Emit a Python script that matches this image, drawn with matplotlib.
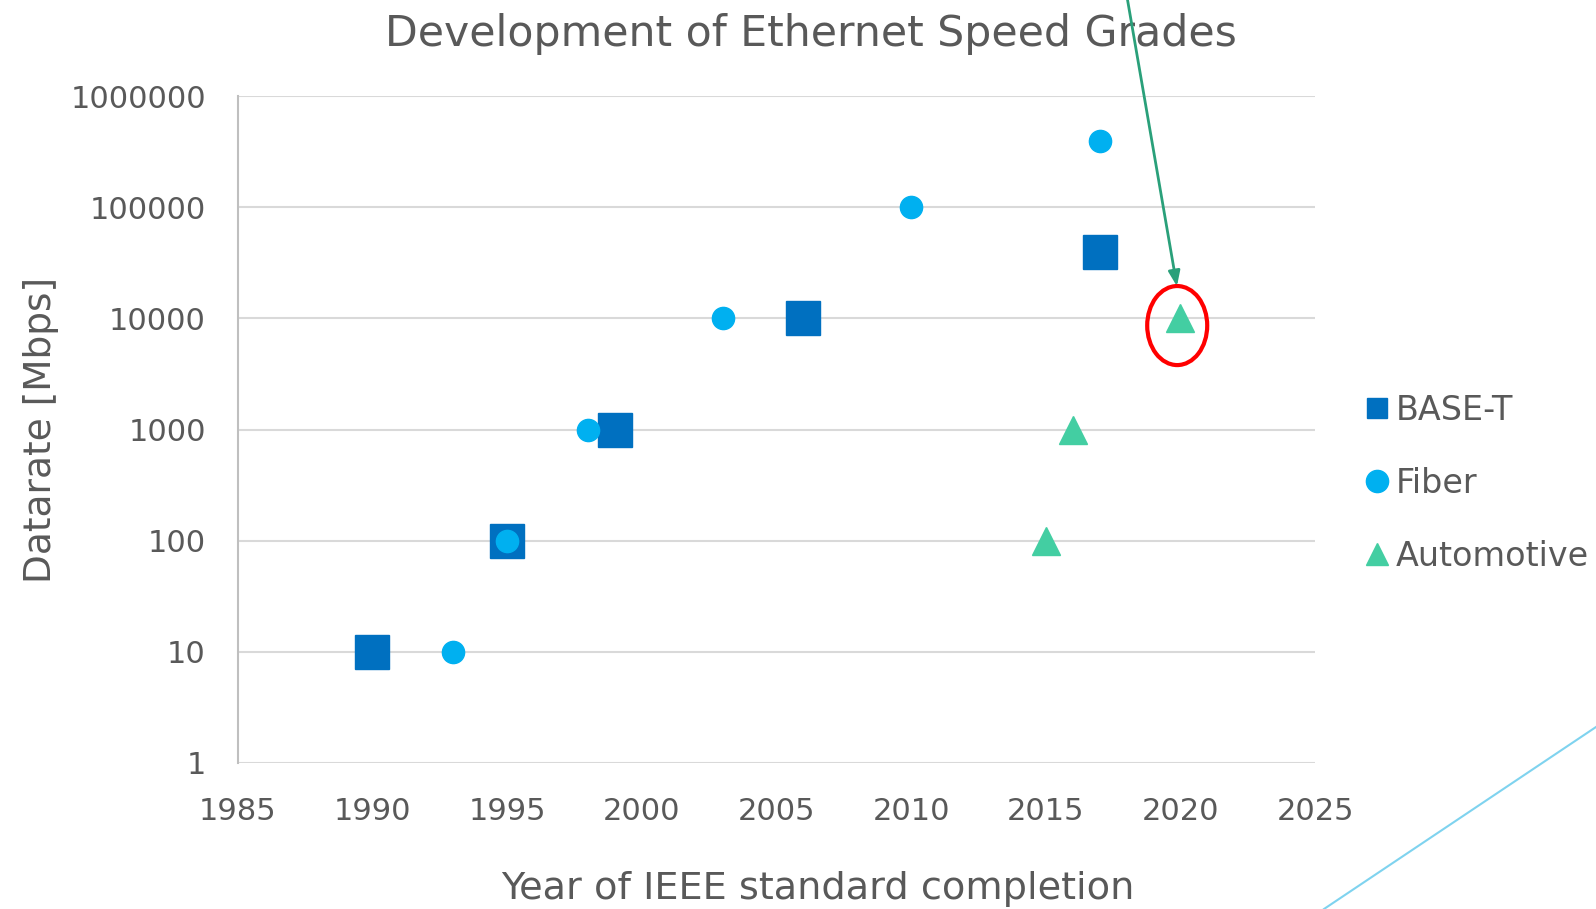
import matplotlib
matplotlib.use("Agg")
import matplotlib.pyplot as plt
from matplotlib.patches import Ellipse
from matplotlib.lines import Line2D

# data
base_t_years = [1990, 1995, 1999, 2006, 2017]
base_t_rates = [10, 100, 1000, 10000, 40000]
fiber_years = [1993, 1995, 1998, 2003, 2010, 2017]
fiber_rates = [10, 100, 1000, 10000, 100000, 400000]
auto_years = [2015, 2016, 2020]
auto_rates = [100, 1000, 10000]
x_ticks = [1985, 1990, 1995, 2000, 2005, 2010, 2015, 2020, 2025]
y_ticks = [1, 10, 100, 1000, 10000, 100000, 1000000]

TXT = '#595959'
plt.rcParams['font.family'] = ['DejaVu Sans']

fig = plt.figure(figsize=(15.96, 9.09), dpi=100)
ax = fig.add_axes([0.149, 0.161, 0.675, 0.733])

ax.plot(base_t_years, base_t_rates, 's', color='#0070C0', markersize=25, linestyle='none', label='BASE-T', zorder=3)
ax.plot(fiber_years, fiber_rates, 'o', color='#00B0F0', markersize=16, linestyle='none', label='Fiber', zorder=4)
ax.plot(auto_years, auto_rates, '^', color='#43CEA2', markersize=20, linestyle='none', label='Automotive', zorder=4)

ax.set_yscale('log')
ax.set_xlim(1985, 2025)
ax.set_ylim(1, 1000000)
ax.set_xticks(x_ticks)
ax.set_xticklabels([str(t) for t in x_ticks])
ax.set_yticks(y_ticks)
ax.set_yticklabels([str(t) for t in y_ticks])
ax.minorticks_off()
ax.tick_params(axis='both', length=0, labelsize=22, labelcolor=TXT)
ax.tick_params(axis='x', pad=25)
ax.tick_params(axis='y', pad=23)
ax.grid(axis='y', color='#d9d9d9', linewidth=1.5)
for side in ['top', 'right', 'bottom']:
    ax.spines[side].set_visible(False)
ax.spines['left'].set_color('#bfbfbf')
ax.spines['left'].set_linewidth(1.5)

# title and x label sit a bit right of the plot centre, as on the slide
ax.set_title('Development of Ethernet Speed Grades', fontsize=30.7, color=TXT, pad=36, x=0.532)
ax.set_xlabel('Year of IEEE standard completion', fontsize=27.5, color=TXT, labelpad=32, x=0.538)
ax.set_ylabel('Datarate [Mbps]', fontsize=27, color=TXT, labelpad=8)

# red ring around the newest automotive grade
ring = Ellipse((0.872, 0.656), 60 / 1077, 79 / 666, transform=ax.transAxes,
               fill=False, edgecolor='#ff0000', linewidth=3, clip_on=False, zorder=5)
ax.add_patch(ring)
ax.annotate('', xy=(2019.87, 19500), xycoords='data',
            xytext=(0.7055, 1.01), textcoords='figure fraction',
            arrowprops=dict(arrowstyle='-|>,head_length=0.9,head_width=0.35',
                            color='#2aa07a', linewidth=2, shrinkA=0, shrinkB=0),
            annotation_clip=False, zorder=6)

# light blue slide decoration
fig.add_artist(Line2D([1324 / 1596, 1.0], [0.0, 1 - 727 / 909], transform=fig.transFigure,
                      color='#7fd3ef', linewidth=1.5))

handles = [Line2D([], [], marker='s', color='#0070C0', linestyle='none', markersize=15),
           Line2D([], [], marker='o', color='#00B0F0', linestyle='none', markersize=16),
           Line2D([], [], marker='^', color='#43CEA2', linestyle='none', markersize=16)]
leg = fig.legend(handles, ['BASE-T', 'Fiber', 'Automotive'], loc='center left',
                 bbox_to_anchor=(0.8555, 0.468), frameon=False, fontsize=24,
                 handlelength=0.7, handletextpad=0.2, labelspacing=1.2,
                 borderpad=0, borderaxespad=0)
for t in leg.get_texts():
    t.set_color(TXT)

fig.savefig('out.png', dpi=100)
